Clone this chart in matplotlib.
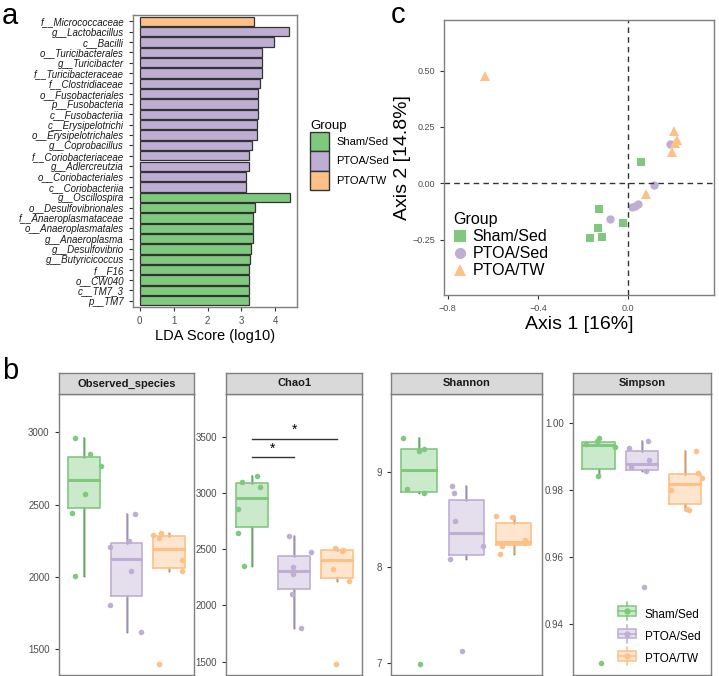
import matplotlib
matplotlib.use("Agg")
import matplotlib.pyplot as plt
from matplotlib.patches import Rectangle
from matplotlib.lines import Line2D
from matplotlib.legend_handler import HandlerBase
import numpy as np

plt.rcParams['font.family'] = ['Liberation Sans', 'DejaVu Sans']

W, H = 719, 676
col = {"Sham/Sed": "#7FC97F", "PTOA/Sed": "#BEAED4", "PTOA/TW": "#FDC086"}
groups = ["Sham/Sed", "PTOA/Sed", "PTOA/TW"]

# ---- panel a data (LEfSe)
taxa = ["f__Micrococcaceae", "g__Lactobacillus", "c__Bacilli", "o__Turicibacterales",
        "g__Turicibacter", "f__Turicibacteraceae", "f__Clostridiaceae", "o__Fusobacteriales",
        "p__Fusobacteria", "c__Fusobacteriia", "c__Erysipelotrichi", "o__Erysipelotrichales",
        "g__Coprobacillus", "f__Coriobacteriaceae", "g__Adlercreutzia", "o__Coriobacteriales",
        "c__Coriobacteriia", "g__Oscillospira", "o__Desulfovibrionales", "f__Anaeroplasmataceae",
        "o__Anaeroplasmatales", "g__Anaeroplasma", "g__Desulfovibrio", "g__Butyricicoccus",
        "f__F16", "o__CW040", "c__TM7_3", "p__TM7"]
lda = [3.37, 4.39, 3.95, 3.62, 3.62, 3.62, 3.55, 3.50, 3.50, 3.50, 3.47, 3.47, 3.30, 3.23,
       3.23, 3.14, 3.14, 4.44, 3.41, 3.35, 3.35, 3.35, 3.28, 3.25, 3.22, 3.22, 3.22, 3.22]
taxa_group = ["PTOA/TW"] + ["PTOA/Sed"] * 16 + ["Sham/Sed"] * 11

# ---- panel c data (PCoA)
pc_x = {"Sham/Sed": [0.055, -0.130, -0.021, -0.134, -0.168, -0.117],
        "PTOA/Sed": [0.185, 0.115, 0.044, 0.030, 0.015, -0.080],
        "PTOA/TW": [-0.633, 0.202, 0.214, 0.207, 0.193, 0.077]}
pc_y = {"Sham/Sed": [0.095, -0.114, -0.175, -0.198, -0.244, -0.240],
        "PTOA/Sed": [0.175, -0.006, -0.090, -0.099, -0.107, -0.158],
        "PTOA/TW": [0.476, 0.232, 0.192, 0.180, 0.138, -0.046]}
pc_marker = {"Sham/Sed": "s", "PTOA/Sed": "o", "PTOA/TW": "^"}

# ---- panel b data (alpha diversity)
metrics = ["Observed_species", "Chao1", "Shannon", "Simpson"]
alpha_vals = {
    "Observed_species": {"Sham/Sed": [2959, 2850, 2765, 2576, 2440, 2009],
                         "PTOA/Sed": [2433, 2249, 2205, 2044, 1809, 1620],
                         "PTOA/TW": [2288, 2302, 2267, 2117, 2044, 1399]},
    "Chao1": {"Sham/Sed": [3099, 3152, 3057, 2858, 2647, 2353],
              "PTOA/Sed": [2620, 2478, 2341, 2279, 2100, 1803],
              "PTOA/TW": [2510, 2492, 2329, 2483, 2219, 1479]},
    "Shannon": {"Sham/Sed": [9.353, 9.22, 9.241, 8.818, 8.780, 6.986],
                "PTOA/Sed": [8.853, 8.776, 8.49, 8.224, 8.091, 7.122],
                "PTOA/TW": [8.542, 8.528, 8.287, 8.224, 8.14, 8.25]},
    "Simpson": {"Sham/Sed": [0.9937, 0.9944, 0.9953, 0.9927, 0.9841, 0.9285],
                "PTOA/Sed": [0.9923, 0.9945, 0.9889, 0.9867, 0.9856, 0.9511],
                "PTOA/TW": [0.9916, 0.9851, 0.9834, 0.9800, 0.9744, 0.9739]},
}
jitter = {
    "Observed_species": {"Sham/Sed": [-0.21, 0.14, 0.41, 0.02, -0.29, -0.21],
                         "PTOA/Sed": [0.21, 0.07, -0.38, 0.11, -0.38, 0.34],
                         "PTOA/TW": [-0.37, -0.19, -0.23, 0.32, 0.32, -0.24]},
    "Chao1": {"Sham/Sed": [-0.22, 0.13, 0.20, -0.33, -0.32, -0.18],
              "PTOA/Sed": [-0.13, 0.40, -0.02, -0.02, -0.05, 0.16],
              "PTOA/TW": [-0.05, 0.14, -0.08, 0.12, 0.29, -0.01]},
    "Shannon": {"Sham/Sed": [-0.35, -0.01, 0.10, -0.26, 0.10, 0.03],
                "PTOA/Sed": [-0.30, -0.26, -0.23, 0.36, -0.34, -0.10],
                "PTOA/TW": [-0.38, -0.03, 0.25, -0.25, -0.29, 0.25]},
    "Simpson": {"Sham/Sed": [-0.29, -0.03, 0.02, 0.38, -0.01, 0.05],
                "PTOA/Sed": [-0.30, 0.15, 0.16, -0.24, 0.09, 0.06],
                "PTOA/TW": [0.26, 0.29, 0.39, -0.32, 0.05, 0.08]},
}
ylims = {"Observed_species": (1322, 3268), "Chao1": (1381, 3886),
         "Shannon": (6.87, 9.82), "Simpson": (0.9249, 1.0086)}
yticks = {"Observed_species": [1500, 2000, 2500, 3000], "Chao1": [1500, 2000, 2500, 3000, 3500],
          "Shannon": [7, 8, 9], "Simpson": [0.94, 0.96, 0.98, 1.00]}
ytick_fmt = {"Observed_species": "{:.0f}", "Chao1": "{:.0f}", "Shannon": "{:.0f}", "Simpson": "{:.2f}"}
# significance brackets on Chao1: (x1, x2, y)
sig = [(1, 2, 3319), (1, 3, 3485)]


def px_axes(fig, x0, y0, x1, y1):
    return fig.add_axes([x0 / W, 1 - y1 / H, (x1 - x0) / W, (y1 - y0) / H])


def style_ax(ax, size=7):
    for s in ax.spines.values():
        s.set_color("#7F7F7F")
        s.set_linewidth(1.0)
    ax.tick_params(length=3, color="#333333", labelcolor="#4D4D4D", labelsize=size, width=0.8)


fig = plt.figure(figsize=(W / 100, H / 100), dpi=100)

# ================= a =================
ax = px_axes(fig, 133, 15, 297, 307)
n = len(taxa)
ypos = np.arange(n)[::-1] + 1
ax.barh(ypos, lda, height=0.9, color=[col[g] for g in taxa_group],
        edgecolor="#333333", linewidth=0.9)
ax.set_ylim(0.4, n + 0.6)
ax.set_xlim(-0.2, 4.64)
ax.set_yticks(ypos)
ax.set_yticklabels(taxa, fontstyle="italic", fontsize=7, color="#1A1A1A")
ax.set_xticks([0, 1, 2, 3, 4])
style_ax(ax)
ax.tick_params(axis="y", labelsize=7, labelcolor="#1A1A1A")
ax.set_xlabel("LDA Score (log10)", fontsize=10.5, labelpad=2)
handles = [Rectangle((0, 0), 1, 1, facecolor=col[g], edgecolor="#333333", linewidth=1) for g in groups]
fig.legend(handles, groups, title="Group", loc="upper left", bbox_to_anchor=(300 / W, 1 - 110 / H),
           frameon=False, fontsize=8, title_fontsize=9.5, handlelength=1.75, handleheight=2.3,
           labelspacing=0.0, handletextpad=0.6, alignment="left")
fig.text(2 / W, 1 - 2 / H, "a", fontsize=21, va="top", ha="left")

# ================= c =================
ax = px_axes(fig, 444, 20, 714, 295)
for g in groups:
    ax.plot(pc_x[g], pc_y[g], linestyle="none", marker=pc_marker[g], color=col[g],
            markersize=6 if g != "PTOA/TW" else 6.5, markeredgewidth=0)
ax.axhline(0, color="#333333", linestyle=(0, (4, 3)), linewidth=1)
ax.axvline(0, color="#333333", linestyle=(0, (4, 3)), linewidth=1)
ax.set_xlim(-0.816, 0.38)
ax.set_ylim(-0.496, 0.725)
ax.set_xticks([-0.8, -0.4, 0.0])
ax.set_xticklabels(["\u22120.8", "\u22120.4", "0.0"])
ax.set_yticks([-0.25, 0, 0.25, 0.5])
ax.set_yticklabels(["\u22120.25", "0.00", "0.25", "0.50"])
style_ax(ax, size=6.5)
ax.set_xlabel("Axis 1 [16%]", fontsize=14, labelpad=2)
ax.set_ylabel("Axis 2 [14.8%]", fontsize=14, labelpad=1)
handles = [Line2D([], [], linestyle="none", marker=pc_marker[g], color=col[g], markersize=8,
                  markeredgewidth=0) for g in groups]
ax.legend(handles, groups, title="Group", loc="upper left", bbox_to_anchor=(0.0, 0.335),
          frameon=False, fontsize=11.5, title_fontsize=11.5, handlelength=0.8,
          labelspacing=0.12, handletextpad=0.4, borderaxespad=0.2, alignment="left")
fig.text(391 / W, 1 - 1 / H, "c", fontsize=21, va="top", ha="left")

# ================= b =================
facet_x = [(58.7, 194.3), (226, 362.3), (390.7, 542), (572.7, 711)]
strip_top, strip_bot, pan_bot = 373.3, 393.7, 675


class BoxKey(HandlerBase):
    def create_artists(self, legend, orig, xd, yd, w, h, fontsize, trans):
        c = orig.get_color()
        cx, cy = xd + w / 2, yd + h / 2
        bw, bh = w, h * 0.9
        r = Rectangle((cx - bw / 2, cy - bh / 2), bw, bh, facecolor=c, alpha=0.4,
                      edgecolor="none", transform=trans)
        r2 = Rectangle((cx - bw / 2, cy - bh / 2), bw, bh, facecolor="none",
                       edgecolor=c, linewidth=1.1, transform=trans)
        wl1 = Line2D([cx, cx], [cy + bh / 2, cy + h * 0.85], color=c, linewidth=1.1, transform=trans)
        wl2 = Line2D([cx, cx], [cy - bh / 2, cy - h * 0.85], color=c, linewidth=1.1, transform=trans)
        ml = Line2D([cx - bw / 2, cx + bw / 2], [cy, cy], color=c, linewidth=1.1, transform=trans)
        pt = Line2D([cx], [cy], marker="o", markersize=3.5, color=c, linestyle="none", transform=trans)
        return [r, r2, wl1, wl2, ml, pt]


for i, m in enumerate(metrics):
    x0, x1 = facet_x[i]
    ax = px_axes(fig, x0, strip_bot, x1, pan_bot)
    for k, g in enumerate(groups):
        v = np.array(alpha_vals[m][g])
        bp = ax.boxplot(v, positions=[k + 1], widths=0.75, patch_artist=True, showcaps=False,
                        showfliers=False, whis=1.5)
        for b in bp["boxes"]:
            b.set_facecolor(col[g])
            b.set_alpha(0.4)
            b.set_edgecolor("none")
        ax.boxplot(v, positions=[k + 1], widths=0.75, patch_artist=False, showcaps=False,
                   showfliers=False, whis=1.5,
                   boxprops=dict(color=col[g], linewidth=1.2),
                   whiskerprops=dict(color=col[g], linewidth=1.2),
                   medianprops=dict(color=col[g], linewidth=2.2))
        ax.plot(k + 1 + np.array(jitter[m][g]), v, linestyle="none", marker="o",
                markersize=4, color=col[g], markeredgewidth=0)
    ax.set_xlim(0.4, 3.6)
    ax.set_ylim(*ylims[m])
    ax.set_xticks([])
    ax.set_yticks(yticks[m])
    ax.set_yticklabels([ytick_fmt[m].format(t) for t in yticks[m]])
    style_ax(ax)
    if m == "Chao1":
        for a, b_, yv in sig:
            ax.plot([a, b_], [yv, yv], color="#333333", linewidth=1)
            ax.text((a + b_) / 2, yv + 15, "*", ha="center", va="bottom", fontsize=10)
    # strip
    sa = px_axes(fig, x0, strip_top, x1, strip_bot)
    sa.set_xticks([])
    sa.set_yticks([])
    sa.set_facecolor("#D9D9D9")
    for s in sa.spines.values():
        s.set_color("#7F7F7F")
        s.set_linewidth(1.0)
    sa.text(0.5, 0.5, m, ha="center", va="center", fontsize=8, fontweight="bold",
            color="#1A1A1A", transform=sa.transAxes)

hs = [Line2D([], [], color=col[g]) for g in groups]
fig.legend(hs, groups, handler_map={Line2D: BoxKey()}, loc="upper left",
           bbox_to_anchor=(616 / W, 1 - 606 / H), frameon=False, fontsize=8.5,
           handlelength=1.5, handleheight=1.0, labelspacing=0.85, handletextpad=0.75,
           borderaxespad=0, borderpad=0.2)

fig.text(2 / W, 1 - 357 / H, "b", fontsize=21, va="top", ha="left")

fig.savefig("out.png", dpi=100)
